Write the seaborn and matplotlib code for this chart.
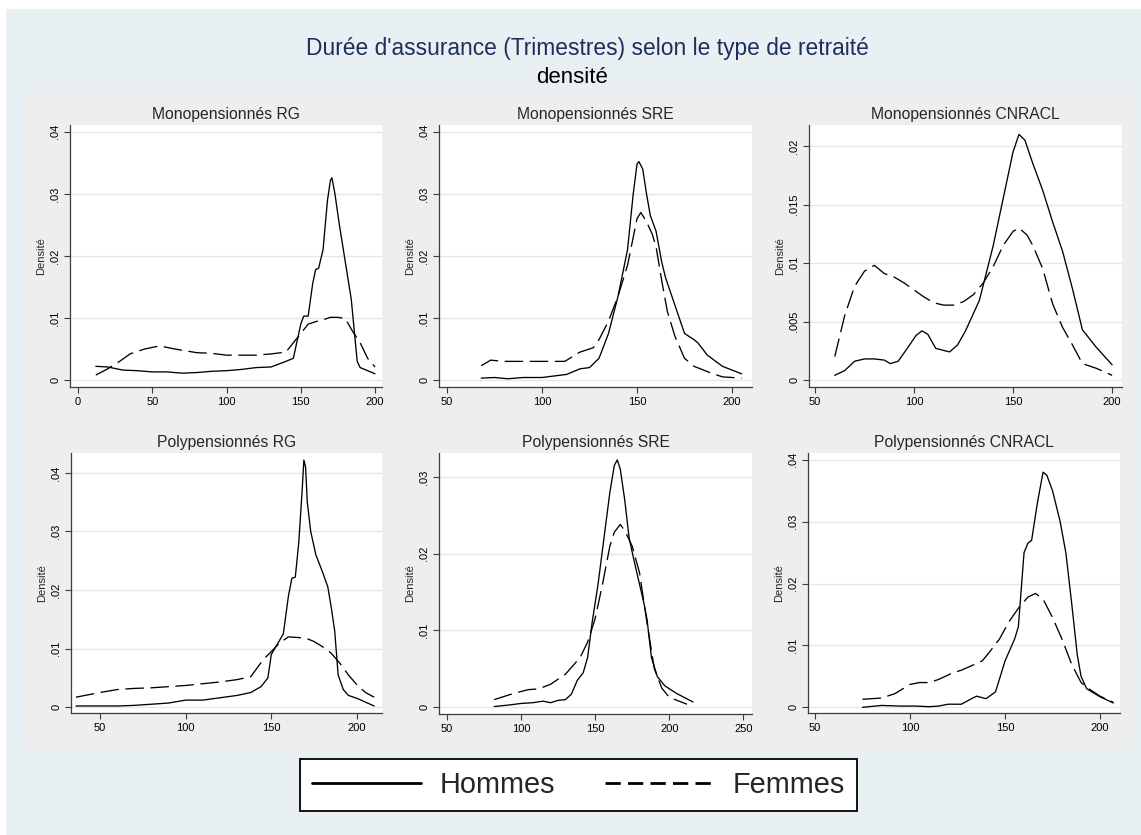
import numpy as np
import pandas as pd
import matplotlib
matplotlib.use("Agg")
import matplotlib.pyplot as plt
from matplotlib.lines import Line2D
from matplotlib.patches import Rectangle
from matplotlib.ticker import FuncFormatter
import seaborn as sns

# ---------------- data ----------------
titles = ["Monopensionnés RG", "Monopensionnés SRE", "Monopensionnés CNRACL",
          "Polypensionnés RG", "Polypensionnés SRE", "Polypensionnés CNRACL"]
series_names = ["Hommes", "Femmes"]

mono_rg_x_h = [12, 20, 30, 40, 50, 60, 70, 80, 90, 100, 110, 120, 130, 140, 145, 150, 152, 155, 158, 160,
               162, 165, 168, 170, 171, 173, 176, 180, 184, 188, 190, 195, 200]
mono_rg_y_h = [.0022, .0021, .0016, .0015, .0013, .0013, .0011, .0012, .0014, .0015, .0017, .002, .0021, .003,
               .0035, .009, .0103, .0103, .0155, .0178, .018, .021, .029, .0322, .0326, .030, .025, .019, .013,
               .003, .002, .0015, .001]
mono_rg_x_f = [12, 20, 28, 35, 45, 55, 65, 80, 90, 100, 110, 120, 130, 140, 145, 150, 155, 160, 165, 170,
               175, 180, 185, 190, 195, 200]
mono_rg_y_f = [.0008, .0018, .003, .0042, .005, .0055, .005, .0044, .0043, .004, .004, .004, .0042, .0045,
               .006, .0075, .009, .0094, .0097, .0101, .0101, .0099, .0078, .006, .0035, .0021]

mono_sre_x_h = [68, 75, 82, 90, 100, 113, 120, 125, 130, 135, 140, 145, 148, 150, 151, 153, 155, 157, 160,
                163, 165, 170, 175, 180, 182, 187, 195, 205]
mono_sre_y_h = [.0003, .0004, .0002, .0004, .0004, .0009, .0018, .002, .0035, .0075, .0135, .021, .030, .0348,
                .0352, .034, .030, .0265, .024, .019, .0165, .012, .0075, .0065, .006, .004, .0022, .001]
mono_sre_x_f = [68, 73, 80, 90, 100, 112, 120, 127, 130, 135, 140, 145, 148, 150, 152, 155, 158, 160, 163,
                166, 170, 175, 180, 190, 195, 205]
mono_sre_y_f = [.0023, .0032, .003, .003, .003, .003, .0045, .0052, .0065, .0095, .0135, .0185, .023, .026,
                .027, .0255, .0235, .0215, .016, .011, .007, .0035, .0022, .001, .0005, .0003]

mono_cn_x_h = [60, 65, 70, 75, 80, 85, 88, 92, 97, 101, 104, 107, 111, 118, 122, 126, 133, 140, 145, 150,
               153, 156, 160, 165, 170, 175, 180, 185, 192, 200]
mono_cn_y_h = [.0004, .0008, .0016, .0018, .0018, .0017, .0014, .0016, .0028, .0038, .0042, .0039, .0027,
               .0024, .003, .0042, .0068, .0115, .0155, .0195, .021, .0205, .0185, .0162, .0135, .011, .0078,
               .0043, .0028, .0013]
mono_cn_x_f = [60, 65, 70, 75, 80, 85, 90, 95, 100, 105, 110, 115, 120, 125, 130, 135, 140, 145, 150, 153,
               157, 160, 165, 170, 175, 180, 185, 192, 200]
mono_cn_y_f = [.002, .0055, .008, .0093, .0098, .0091, .0088, .0083, .0077, .0071, .0066, .0064, .0064,
               .0067, .0073, .0083, .0097, .0115, .0127, .013, .0124, .0115, .0095, .0065, .0045, .003, .0014,
               .001, .0004]

poly_rg_x_h = [36, 50, 60, 70, 80, 90, 100, 110, 120, 130, 138, 144, 148, 150, 153, 157, 160, 162, 164, 166,
               168, 169, 170, 171, 173, 176, 180, 183, 185, 187, 189, 192, 195, 200, 210]
poly_rg_y_h = [.0002, .0002, .0002, .0003, .0005, .0007, .0012, .0012, .0016, .002, .0025, .0035, .005, .009,
               .0105, .0125, .019, .022, .0222, .028, .037, .0422, .041, .035, .030, .026, .023, .0205, .017,
               .013, .0055, .003, .002, .0015, .0002]
poly_rg_x_f = [36, 50, 60, 70, 80, 90, 100, 110, 120, 130, 138, 145, 150, 155, 160, 165, 170, 175, 180, 185,
               190, 195, 200, 205, 210]
poly_rg_y_f = [.0017, .0025, .003, .0032, .0033, .0035, .0037, .004, .0043, .0047, .0052, .008, .0095, .011,
               .012, .0119, .0118, .0112, .0103, .0092, .0075, .0055, .0038, .0025, .0017]

poly_sre_x_h = [82, 92, 100, 108, 115, 120, 125, 130, 134, 138, 142, 145, 148, 152, 156, 160, 163, 165, 167,
                170, 173, 177, 180, 183, 185, 188, 192, 197, 205, 216]
poly_sre_y_h = [.0001, .0003, .0005, .0006, .0008, .0006, .0009, .001, .0017, .0035, .0045, .0065, .011, .016,
                .022, .028, .0315, .0322, .031, .027, .022, .0185, .016, .0135, .0115, .0065, .004, .0028,
                .0018, .0007]
poly_sre_x_f = [82, 95, 105, 112, 120, 130, 140, 145, 150, 155, 160, 163, 167, 170, 175, 180, 185, 190, 195,
                200, 212]
poly_sre_y_f = [.001, .0018, .0023, .0024, .003, .0043, .0065, .0085, .0115, .016, .021, .0228, .0238, .023,
                .021, .0175, .011, .005, .0025, .0013, .0004]

poly_cn_x_h = [75, 85, 95, 103, 110, 115, 120, 127, 133, 135, 140, 145, 150, 155, 157, 160, 162, 164, 167,
               170, 172, 175, 179, 182, 185, 188, 190, 193, 200, 207]
poly_cn_y_h = [0, .0003, .0002, .0002, .0001, .0002, .0005, .0005, .0015, .0018, .0014, .0025, .0075, .011,
               .013, .025, .0265, .027, .033, .038, .0375, .035, .030, .025, .017, .0085, .005, .003, .0017,
               .0007]
poly_cn_x_f = [75, 85, 92, 100, 105, 110, 115, 122, 127, 133, 138, 142, 147, 152, 157, 162, 166, 170, 175,
               180, 185, 190, 195, 200, 207]
poly_cn_y_f = [.0013, .0015, .0022, .0037, .004, .004, .0045, .0055, .006, .0068, .0075, .009, .011, .0138,
               .016, .0178, .0184, .0175, .0145, .011, .007, .004, .0028, .0018, .0008]

x_ticks = [[0, 50, 100, 150, 200], [50, 100, 150, 200], [50, 100, 150, 200],
           [50, 100, 150, 200], [50, 100, 150, 200, 250], [50, 100, 150, 200]]
y_ticks = [[0, .01, .02, .03, .04], [0, .01, .02, .03, .04], [0, .005, .01, .015, .02],
           [0, .01, .02, .03, .04], [0, .01, .02, .03], [0, .01, .02, .03, .04]]

panel_data = [
    (mono_rg_x_h, mono_rg_y_h, mono_rg_x_f, mono_rg_y_f),
    (mono_sre_x_h, mono_sre_y_h, mono_sre_x_f, mono_sre_y_f),
    (mono_cn_x_h, mono_cn_y_h, mono_cn_x_f, mono_cn_y_f),
    (poly_rg_x_h, poly_rg_y_h, poly_rg_x_f, poly_rg_y_f),
    (poly_sre_x_h, poly_sre_y_h, poly_sre_x_f, poly_sre_y_f),
    (poly_cn_x_h, poly_cn_y_h, poly_cn_x_f, poly_cn_y_f),
]

# ---------------- layout / style ----------------
W, H = 1141, 835
# axes boxes in pixels: (left, top, right, bottom)
boxes_px = [(70, 125, 382, 387), (439, 125, 752, 387), (809, 125, 1122, 387),
            (71, 453, 382, 713), (439, 453, 752, 714), (808, 453, 1120, 713)]
xlims = [(-5.4, 204.7), (45.8, 210.5), (47.0, 205.0), (33.1, 214.6), (44.8, 255.8), (46.3, 210.5)]
ylims = [(-0.00113, 0.0411), (-0.00113, 0.0411), (-0.0006, 0.0218),
         (-0.001, 0.0434), (-0.00087, 0.0331), (-0.00092, 0.0411)]

sns.set_style("ticks")
plt.rcParams["font.family"] = ["Liberation Sans", "DejaVu Sans"]

BLUE_BG = "#e8f0f3"
GRAY_BG = "#eeeeee"
NAVY = "#1f2e5c"
AXC = "#3c3c3c"

fig = plt.figure(figsize=(W / 100, H / 100), dpi=100, facecolor="white")
fig.patches.append(Rectangle((6 / W, 0), 1 - 6 / W, 1 - 9 / H, transform=fig.transFigure,
                             facecolor=BLUE_BG, edgecolor="none", zorder=-10))
fig.patches.append(Rectangle((23 / W, 1 - 749 / H), (1131 - 23) / W, (749 - 93) / H,
                             transform=fig.transFigure, facecolor=GRAY_BG, edgecolor="none", zorder=-9))


def stata_fmt(v, pos):
    s = f"{v:g}"
    if s.startswith("0."):
        s = s[1:]
    return s


dash_map = {"Hommes": "", "Femmes": (14, 5)}

for i, (title, (xh, yh, xf, yf)) in enumerate(zip(titles, panel_data)):
    l, t, r, b = boxes_px[i]
    ax = fig.add_axes([l / W, 1 - b / H, (r - l) / W, (b - t) / H])
    ax.set_facecolor("white")
    df = pd.DataFrame({
        "x": list(xh) + list(xf),
        "y": list(yh) + list(yf),
        "sexe": [series_names[0]] * len(xh) + [series_names[1]] * len(xf),
    })
    sns.lineplot(data=df, x="x", y="y", style="sexe", dashes=dash_map, color="black",
                 estimator=None, sort=False, legend=False, lw=0.95, ax=ax, zorder=3)
    ax.set_xlim(*xlims[i])
    ax.set_ylim(*ylims[i])
    ax.set_xticks(x_ticks[i])
    ax.set_yticks(y_ticks[i])
    ax.yaxis.set_major_formatter(FuncFormatter(stata_fmt))
    ax.yaxis.grid(True, color="#e6e6e6", lw=1.0, zorder=0)
    ax.xaxis.grid(False)
    ax.set_axisbelow(True)
    for s in ["top", "right"]:
        ax.spines[s].set_visible(False)
    for s in ["left", "bottom"]:
        ax.spines[s].set_color(AXC)
        ax.spines[s].set_linewidth(0.9)
    ax.tick_params(axis="both", direction="out", length=4, width=0.8, color=AXC,
                   labelsize=8, labelcolor="black", pad=3)
    ax.tick_params(axis="y", labelrotation=90)
    for lab in ax.get_yticklabels():
        lab.set_va("center")
    ax.set_xlabel("")
    ax.set_ylabel("Densité", fontsize=8, labelpad=3)
    ax.set_title(title, fontsize=11.3, pad=4)

fig.text(587 / W, 1 - 54.5 / H, "Durée d'assurance (Trimestres) selon le type de retraité",
         ha="center", va="baseline", fontsize=16.4, color=NAVY)
fig.text(572 / W, 1 - 83 / H, "densité", ha="center", va="baseline", fontsize=16, color="black")

handles = [Line2D([0], [0], color="black", lw=2.0, linestyle="-"),
           Line2D([0], [0], color="black", lw=2.0, linestyle=(0, (5.5, 2.6)))]
leg = fig.legend(handles, series_names, loc="center", bbox_to_anchor=(578.5 / W, 1 - 785 / H),
                 ncol=2, frameon=True, fancybox=False, fontsize=20.8, handlelength=3.75,
                 handletextpad=0.65, columnspacing=1.75, borderpad=0.42, borderaxespad=0)
leg.get_frame().set_edgecolor("black")
leg.get_frame().set_linewidth(1.3)
leg.get_frame().set_facecolor("white")
leg.get_frame().set_alpha(1)

fig.savefig("out.png", dpi=100, facecolor=fig.get_facecolor())
